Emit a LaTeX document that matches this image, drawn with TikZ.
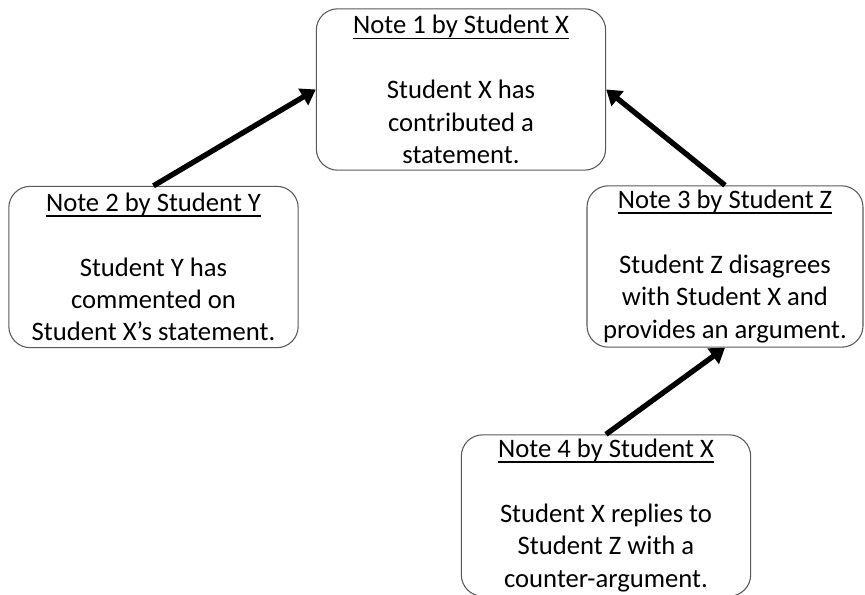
\documentclass[tikz,border=0pt]{standalone}
\usepackage{fontspec}
\setmainfont{Carlito}
\usepackage{tikz}
\usetikzlibrary{arrows.meta}
\newcommand{\notefont}{\fontsize{20}{24.3}\selectfont}
\newcommand{\notetitle}[1]{\sbox0{#1}\rlap{\rule[-4pt]{\wd0}{1.2pt}}\usebox0}

\begin{document}
\begin{tikzpicture}[x=0.75pt, y=-0.75pt,
    note/.style={draw=black!65, line width=0.8pt, rounded corners=16pt,
                 align=center, minimum width=217pt, minimum height=121pt,
                 inner sep=3pt, font=\notefont},
    link/.style={-{Triangle[length=11pt, width=14pt]}, line width=4pt}]
    \useasboundingbox (0,0) rectangle (865,594);
    % the four notes
    \node[note] (note1) at (461,89.5)
      {\notetitle{Note 1 by Student X}\\[24.3pt] Student X has\\ contributed a\\ statement.};
    \node[note] (note2) at (153.5,267)
      {\notetitle{Note 2 by Student Y}\\[24.3pt] Student Y has\\ commented on\\ Student X’s statement.};
    \node[note, minimum width=207pt] (note3) at (725,266.5)
      {\notetitle{Note 3 by Student Z}\\[24.3pt] Student Z disagrees\\ with Student X and\\
       \makebox[0pt]{provides an argument.}};
    \node[note] (note4) at (606,515.5)
      {\notetitle{Note 4 by Student X}\\[24.3pt] Student X replies to\\ Student Z with a\\ counter-argument.};
    % replies point to the note they answer
    \draw[link] (note2.north) -- (note1.west);
    \draw[link] (note3.north) -- (note1.east);
    \draw[link] (note4.north) -- (note3.south);
\end{tikzpicture}
\end{document}
